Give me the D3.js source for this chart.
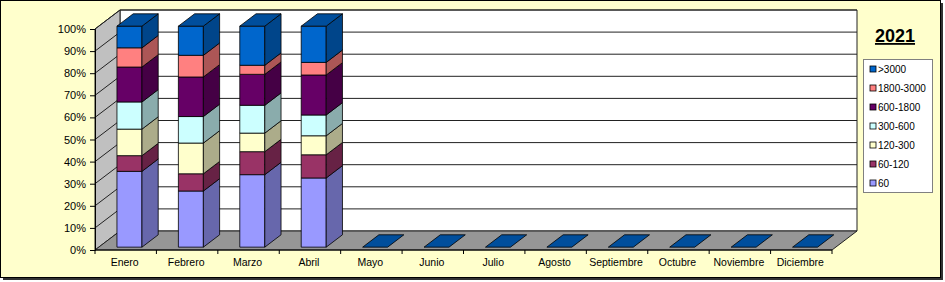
<!DOCTYPE html>
<html>
<head>
<meta charset="utf-8">
<script src="https://cdn.jsdelivr.net/npm/d3@7"></script>
<style>
  html, body { margin: 0; padding: 0; background: #fff; }
  svg text { font-family: "Liberation Sans", Arial, sans-serif; fill: #000; }
</style>
</head>
<body>
<div id="chart"></div>
<script>
// data
const months = ['Enero','Febrero','Marzo','Abril','Mayo','Junio','Julio','Agosto','Septiembre','Octubre','Noviembre','Diciembre']
const seriesNames = ['60','60-120','120-300','300-600','600-1800','1800-3000','>3000']
const seriesColors = ['#9999FF','#993366','#FFFFCC','#CCFFFF','#660066','#FF8080','#0066CC']
// share per month (%), bottom to top; months without data are empty
const s60 = [34.3, 25.4, 32.8, 31.3, 0, 0, 0, 0, 0, 0, 0, 0]
const s60_120 = [7.1, 7.8, 10.4, 10.5, 0, 0, 0, 0, 0, 0, 0, 0]
const s120_300 = [12.0, 13.9, 8.4, 8.6, 0, 0, 0, 0, 0, 0, 0, 0]
const s300_600 = [12.3, 12.0, 12.6, 9.4, 0, 0, 0, 0, 0, 0, 0, 0]
const s600_1800 = [15.8, 17.9, 14.0, 18.1, 0, 0, 0, 0, 0, 0, 0, 0]
const s1800_3000 = [8.7, 9.8, 4.1, 5.7, 0, 0, 0, 0, 0, 0, 0, 0]
const s3000 = [9.8, 13.2, 17.7, 16.4, 0, 0, 0, 0, 0, 0, 0, 0]
const yTicks = [0, 0.1, 0.2, 0.3, 0.4, 0.5, 0.6, 0.7, 0.8, 0.9, 1]
const title = '2021'

const seriesValues = [s60, s60_120, s120_300, s300_600, s600_1800, s1800_3000, s3000]

const width = 945, height = 282

// plot box (front plane) and depth offset
const x0 = 95, y0 = 250, plotW = 737, plotH = 221
const DX = 25, DY = -19
const zFront = 0.15, zBack = 0.8

const svg = d3.select('#chart').append('svg')
  .attr('width', width)
  .attr('height', height)

// frame with shadow
svg.append('rect').attr('x', 3).attr('y', 3).attr('width', 940).attr('height', 277).attr('fill', '#333')
svg.append('rect').attr('x', 0.5).attr('y', 0.5).attr('width', 940).attr('height', 277)
  .attr('fill', '#FFFFCC').attr('stroke', '#000').attr('stroke-width', 1)

const x = d3.scaleBand()
  .domain(months)
  .range([0, plotW])
  .paddingInner(0.593)
  .paddingOuter(0.2965)

const y = d3.scaleLinear().domain([0, 1]).range([0, plotH])

// 3d -> screen
const P = (px, v, z) => [x0 + px + z * DX, y0 - v + z * DY]
const poly = pts => 'M' + pts.map(p => p.join(',')).join('L') + 'Z'

// walls
const walls = svg.append('g')
// back wall
walls.append('path')
  .attr('d', poly([P(0, 0, 1), P(plotW, 0, 1), P(plotW, plotH, 1), P(0, plotH, 1)]))
  .attr('fill', '#fff').attr('stroke', '#222')
// left wall
walls.append('path')
  .attr('d', poly([P(0, 0, 0), P(0, 0, 1), P(0, plotH, 1), P(0, plotH, 0)]))
  .attr('fill', '#C0C0C0').attr('stroke', '#222')
// floor
walls.append('path')
  .attr('d', poly([P(0, 0, 0), P(plotW, 0, 0), P(plotW, 0, 1), P(0, 0, 1)]))
  .attr('fill', '#969696').attr('stroke', '#222')

// gridlines
yTicks.filter(t => t > 0).forEach(t => {
  const a = P(0, y(t), 0), b = P(0, y(t), 1), c = P(plotW, y(t), 1)
  walls.append('path')
    .attr('d', 'M' + a + 'L' + b + 'L' + c)
    .attr('fill', 'none').attr('stroke', '#222').attr('stroke-width', 1)
})

// y axis
const yScreen = d3.scaleLinear().domain([0, 1]).range([y0, y0 - plotH])
svg.append('g')
  .attr('transform', `translate(${x0},0)`)
  .call(d3.axisLeft(yScreen).tickValues(yTicks).tickFormat(d3.format('.0%')).tickSize(5).tickPadding(4))
  .call(g => g.selectAll('text').attr('font-size', 11).attr('font-family', '"Liberation Sans", Arial, sans-serif'))
  .call(g => g.selectAll('line, path').attr('stroke', '#000'))

// x axis: ticks on band boundaries, labels centered
const xAxis = svg.append('g').attr('transform', `translate(${x0},${y0})`)
xAxis.append('line').attr('x1', 0).attr('x2', plotW).attr('stroke', '#000')
d3.range(months.length + 1).forEach(i => {
  const px = i * x.step()
  xAxis.append('line').attr('x1', px).attr('x2', px).attr('y1', 0).attr('y2', 4).attr('stroke', '#000')
})
xAxis.selectAll('text.mlabel')
  .data(months)
  .join('text')
  .attr('class', 'mlabel')
  .attr('x', d => x(d) + x.bandwidth() / 2 - 1)
  .attr('y', 16)
  .attr('text-anchor', 'middle')
  .attr('font-size', 10.5)
  .text(d => d)

// stacked bars
const rows = months.map((m, i) => {
  const r = { month: m }
  seriesNames.forEach((s, k) => { r[s] = seriesValues[k][i] / 100 })
  return r
})
const stacked = d3.stack().keys(seriesNames)(rows)

const bars = svg.append('g')
months.forEach((m, i) => {
  const xa = x(m), xb = x(m) + x.bandwidth()
  const g = bars.append('g')
  let topIdx = -1
  stacked.forEach((layer, k) => {
    const [lo, hi] = layer[i]
    if (hi - lo <= 0) return
    topIdx = k
    const c = d3.color(seriesColors[k])
    // front
    g.append('path')
      .attr('d', poly([P(xa, y(lo), zFront), P(xb, y(lo), zFront), P(xb, y(hi), zFront), P(xa, y(hi), zFront)]))
      .attr('fill', seriesColors[k]).attr('stroke', '#000').attr('stroke-width', 0.8)
    // side
    g.append('path')
      .attr('d', poly([P(xb, y(lo), zFront), P(xb, y(lo), zBack), P(xb, y(hi), zBack), P(xb, y(hi), zFront)]))
      .attr('fill', c.darker(1.1).formatHex()).attr('stroke', '#000').attr('stroke-width', 0.8)
  })
  // top face
  const k = topIdx < 0 ? seriesNames.length - 1 : topIdx
  const top = topIdx < 0 ? 0 : stacked[topIdx][i][1]
  g.append('path')
    .attr('d', poly([P(xa, y(top), zFront), P(xb, y(top), zFront), P(xb, y(top), zBack), P(xa, y(top), zBack)]))
    .attr('fill', d3.color(seriesColors[k]).darker(0.75).formatHex()).attr('stroke', '#000').attr('stroke-width', 0.8)
})

// title
svg.append('text')
  .attr('x', 895).attr('y', 42)
  .attr('text-anchor', 'middle')
  .attr('font-size', 18).attr('font-weight', 'bold')
  .attr('text-decoration', 'underline')
  .text(title)

// legend
const legend = svg.append('g').attr('transform', 'translate(863,59)')
legend.append('rect').attr('x', 0.5).attr('y', 0.5).attr('width', 69).attr('height', 133)
  .attr('fill', '#fff').attr('stroke', '#808080')
const legendOrder = seriesNames.slice().reverse()
const li = legend.selectAll('g.item')
  .data(legendOrder)
  .join('g')
  .attr('class', 'item')
  .attr('transform', (d, i) => `translate(7,${10 + i * 19})`)
li.append('rect').attr('x', 0).attr('y', -3).attr('width', 6).attr('height', 6)
  .attr('fill', d => seriesColors[seriesNames.indexOf(d)]).attr('stroke', '#000').attr('stroke-width', 0.8)
li.append('text').attr('x', 8).attr('y', 3.5).attr('font-size', 10).text(d => d)
</script>
</body>
</html>
